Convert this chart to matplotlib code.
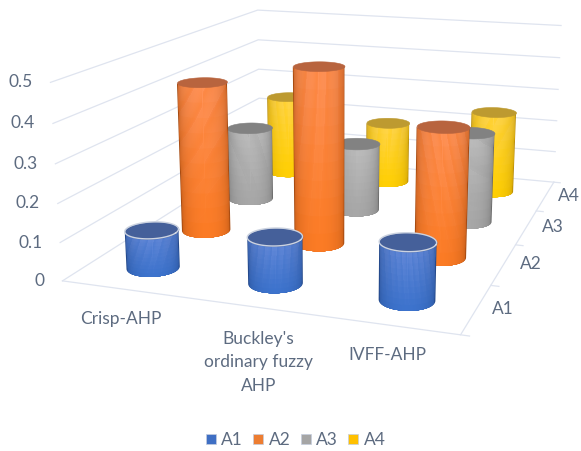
import numpy as np
import matplotlib
matplotlib.use('Agg')
import matplotlib.pyplot as plt
from matplotlib.patches import Patch
from mpl_toolkits.mplot3d import proj3d
from mpl_toolkits.mplot3d.art3d import Poly3DCollection

methods = ['Crisp-AHP', "Buckley's\nordinary fuzzy\nAHP", 'IVFF-AHP']
alternatives = ['A1', 'A2', 'A3', 'A4']
a1 = [0.10, 0.12, 0.145]
a2 = [0.42, 0.485, 0.35]
a3 = [0.22, 0.20, 0.26]
a4 = [0.25, 0.19, 0.25]
series = [a1, a2, a3, a4]
z_ticks = [0, 0.1, 0.2, 0.3, 0.4, 0.5]
z_labels = ['0', '0.1', '0.2', '0.3', '0.4', '0.5']

# body edge, body bottom, body top, cap
palette = [
    ('#254a8c', '#3b72cc', '#6288d8', '#45609a'),
    ('#a84c12', '#fb7a22', '#ff9258', '#b8643e'),
    ('#6c6c6c', '#a6a6a6', '#bcbcbc', '#828282'),
    ('#b98c06', '#ffcf00', '#ffd54a', '#bd9a30'),
]
legend_colors = ['#3f6fc4', '#ed7d31', '#a5a5a5', '#ffc000']
text_color = '#5d6b80'
grid_color = '#dfe4ef'

plt.rcParams['font.family'] = ['Lato', 'DejaVu Sans']

fig = plt.figure(figsize=(5.81, 4.51), dpi=100)
ax = fig.add_axes([34 / 581, 7 / 451, 593 / 581, 593 / 451], projection='3d', computed_zorder=False)
ax.set_xlim(0, 3, view_margin=0)
ax.set_ylim(0, 4, view_margin=0)
ax.set_zlim(0, 0.5, view_margin=0)
ax.view_init(elev=14.34, azim=-70.92)
ax.set_proj_type('persp', focal_length=0.375)
ax.set_box_aspect((0.797, 1.0, 0.396))
ax.set_axis_off()
ax.patch.set_alpha(0)

# camera position in data coordinates, used to find the visible side of each cylinder
proj = ax.get_proj()
eye = np.linalg.svd(proj[[0, 1, 3]])[2][-1]
eye = eye[:3] / eye[3]

# walls and floor edges
for z in z_ticks:
    ax.plot([0, 0, 3], [0, 4, 4], [z, z, z], color=grid_color, lw=0.9, zorder=1)
ax.plot([0, 3, 3], [0, 0, 4], [0, 0, 0], color=grid_color, lw=0.9, zorder=1)
for y in range(5):
    ax.plot([3, 3.06], [y, y], [0, 0], color=grid_color, lw=0.9, zorder=1)


def rgb(c):
    return np.array(matplotlib.colors.to_rgb(c))


def cylinder(x0, y0, height, colors, zorder, rim=False):
    edge, low, high, cap = [rgb(c) for c in colors]
    rx, ry = 0.20, 0.2125
    ex, ey = (eye[0] - x0) / rx, (eye[1] - y0) / ry
    view = np.arctan2(ey, ex)
    half = np.arccos(1 / np.hypot(ex, ey))  # half angle of the visible side

    # nested patches: each one paints inside the last, so there are no seams between shades.
    # steps are even across the drawn width, about a pixel each
    bands = np.linspace(0, height, 11)[:-1]
    count = 0
    for s in np.linspace(1, 0.03, 24):
        frac = np.arcsin(s) / (np.pi / 2)
        w = np.cos(frac * np.pi / 2) ** 0.55
        ang = np.linspace(view - half * frac, view + half * frac, 41)
        cx, cy = x0 + rx * np.cos(ang), y0 + ry * np.sin(ang)
        # the outline is one flat colour, painted once to keep its edge smooth
        for j, z in enumerate(bands if s < 1 else bands[:1]):
            mid = low + (high - low) * (j + 0.5) / 10
            color = edge + (mid - edge) * w
            outline = list(zip(cx, cy, [z] * 41)) + list(zip(cx[::-1], cy[::-1], [height] * 41))
            ax.add_collection3d(Poly3DCollection([outline], facecolors=[color], edgecolors='none',
                                                 linewidths=0, zorder=zorder + count * 1e-4))
            count += 1

    th = np.linspace(0, 2 * np.pi, 121)
    top = [(x0 + rx * np.cos(t), y0 + ry * np.sin(t), height) for t in th]
    ax.add_collection3d(Poly3DCollection([top], facecolors=[cap], edgecolors=[cap], linewidths=0.4,
                                         zorder=zorder + 0.85))
    if rim:
        ax.plot(x0 + rx * np.cos(th), y0 + ry * np.sin(th), [height] * 121, color='#ccd3e0', lw=1.0,
                zorder=zorder + 0.9)


# back rows first, and left to right inside a row
order = 2
for row in range(3, -1, -1):
    for col in range(3):
        cylinder(col + 0.5, row + 0.5, series[row][col], palette[row], order, rim=row == 0)
        order += 1


def tick_label(x, y, z, label, dx, dy, **kw):
    # text pinned to a projected data point, shifted by dx, dy pixels
    u, v, _ = proj3d.proj_transform(x, y, z, proj)
    ax.annotate(label, xy=(u, v), xycoords='data', xytext=(dx * 0.72, dy * 0.72), textcoords='offset points',
                color=text_color, fontsize=12.5, annotation_clip=False, zorder=50, **kw)


method_dx = [-2, 8, 0]
method_dy = [-22, -25, -22]
alt_dx = [16, 16, 16, 13]
for z, label in zip(z_ticks, z_labels):
    tick_label(0, 0, z, label, -18, 0, ha='right', va='center')
for i, label in enumerate(alternatives):
    tick_label(3, i + 0.5, 0, label, alt_dx[i], 0, ha='left', va='center')
for i, label in enumerate(methods):
    tick_label(i + 0.5, 0, 0, label, method_dx[i], method_dy[i], ha='center', va='top',
               multialignment='center', linespacing=1.55)

handles = [Patch(facecolor=c, edgecolor='#c5cede', lw=0.5) for c in legend_colors]
fig.legend(handles, alternatives, loc='center', bbox_to_anchor=(0.509, 0.024), ncol=4, frameon=False,
           fontsize=12.5, labelcolor=text_color, handlelength=0.58, handleheight=0.58, handletextpad=0.3,
           columnspacing=0.6)

fig.savefig('out.png', dpi=100)
